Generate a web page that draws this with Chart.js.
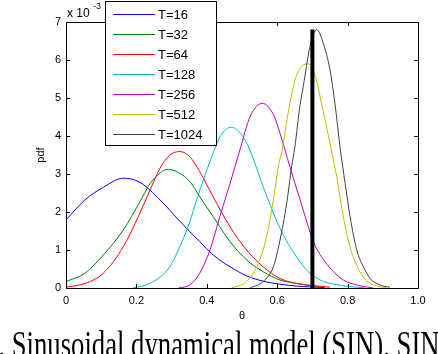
<!DOCTYPE html>
<html lang="en">
<head>
  <meta charset="UTF-8">
  <title>pdf of theta</title>
  <script src="https://cdn.jsdelivr.net/npm/chart.js"></script>
  <style>
    html, body { margin: 0; padding: 0; background: white; overflow: hidden; }
    #wrap { position: relative; width: 438px; height: 354px; overflow: hidden; }
    #chart-box { position: absolute; left: 0; top: 0; width: 438px; height: 327px; }
    #caption { position: absolute; left: 0; top: 325px; font-family: "Liberation Serif", "DejaVu Serif", serif; font-size: 38px; line-height: 38px; white-space: nowrap; color: black; transform-origin: 0 0; }
  </style>
</head>
<body>
<div id="wrap">
  <div id="chart-box"><canvas id="pdf-chart" width="438" height="327"></canvas></div>
  <div id="caption"><span id="cap-num">7. </span><span id="cap-main">Sinusoidal dynamical model (SIN).</span><span> SIN</span></div>
</div>

<script>
// values, pdf in units of 1e-3
const seriesLabels = ['T=16', 'T=32', 'T=64', 'T=128', 'T=256', 'T=512', 'T=1024'];
const seriesColors = ['#0000ff', '#008000', '#ff0000', '#00bfbf', '#bf00bf', '#bfbf00', '#404040'];

const t16x = [0, 0.054, 0.106, 0.163, 0.21, 0.267, 0.324, 0.352, 0.38, 0.418, 0.466, 0.513, 0.56, 0.608, 0.655, 0.693, 0.735];
const t16y = [1.79, 2.32, 2.65, 2.89, 2.78, 2.32, 1.75, 1.48, 1.22, 0.87, 0.56, 0.32, 0.18, 0.10, 0.05, 0.03, 0.01];

const t32x = [0, 0.054, 0.106, 0.163, 0.21, 0.239, 0.267, 0.285, 0.31, 0.352, 0.38, 0.418, 0.466, 0.513, 0.56, 0.608, 0.655, 0.72];
const t32y = [0.17, 0.39, 0.87, 1.53, 2.27, 2.75, 3.02, 3.12, 3.08, 2.8, 2.4, 1.88, 1.22, 0.74, 0.43, 0.21, 0.12, 0.03];

const t64x = [0, 0.054, 0.106, 0.163, 0.21, 0.239, 0.267, 0.295, 0.324, 0.352, 0.38, 0.418, 0.466, 0.513, 0.56, 0.608, 0.655, 0.75];
const t64y = [0.02, 0.12, 0.39, 1.09, 1.97, 2.58, 3.15, 3.5, 3.59, 3.45, 3.06, 2.4, 1.61, 1.0, 0.56, 0.25, 0.12, 0.02];

const t128x = [0.19, 0.239, 0.295, 0.324, 0.352, 0.371, 0.395, 0.418, 0.44, 0.47, 0.5, 0.523, 0.56, 0.608, 0.655, 0.688, 0.722, 0.76, 0.85];
const t128y = [0, 0.12, 0.56, 1.1, 1.75, 2.32, 2.97, 3.55, 4.02, 4.23, 4.02, 3.62, 2.67, 1.57, 0.82, 0.43, 0.21, 0.1, 0];

const t256x = [0.32, 0.352, 0.38, 0.409, 0.437, 0.466, 0.494, 0.523, 0.558, 0.59, 0.608, 0.636, 0.665, 0.693, 0.707, 0.736, 0.76, 0.788, 0.826, 0.873];
const t256y = [0, 0.08, 0.39, 1.0, 1.88, 2.75, 3.63, 4.51, 4.86, 4.55, 4.07, 3.19, 2.32, 1.48, 1.13, 0.69, 0.43, 0.21, 0.08, 0];

const t512x = [0.47, 0.513, 0.542, 0.57, 0.589, 0.603, 0.613, 0.636, 0.655, 0.688, 0.707, 0.722, 0.736, 0.755, 0.769, 0.783, 0.797, 0.816, 0.835, 0.854, 0.883, 0.91];
const t512y = [0, 0.17, 0.56, 1.35, 2.32, 3.19, 3.6, 4.86, 5.6, 5.9, 5.6, 5.03, 4.42, 3.58, 2.93, 2.14, 1.44, 0.82, 0.43, 0.19, 0.05, 0.01];

const t1024x = [0.523, 0.56, 0.589, 0.608, 0.627, 0.641, 0.65, 0.665, 0.674, 0.693, 0.712, 0.731, 0.75, 0.764, 0.778, 0.793, 0.807, 0.826, 0.845, 0.864, 0.892, 0.92];
const t1024y = [0, 0.17, 0.56, 1.26, 2.23, 3.19, 3.7, 4.82, 5.3, 6.35, 6.8, 6.44, 5.74, 4.86, 3.75, 2.75, 1.88, 1.0, 0.56, 0.25, 0.08, 0.02];

const trueX = [0.7, 0.7];
const trueY = [0, 6.8];

const xTicks = [0, 0.2, 0.4, 0.6, 0.8, 1];
const yTicks = [0, 1, 2, 3, 4, 5, 6, 7];

const allX = [t16x, t32x, t64x, t128x, t256x, t512x, t1024x];
const allY = [t16y, t32y, t64y, t128y, t256y, t512y, t1024y];

function pts(xs, ys) { return xs.map((x, i) => ({ x: x, y: ys[i] })); }

const datasets = seriesLabels.map((lab, i) => ({
  label: lab,
  data: pts(allX[i], allY[i]),
  borderColor: seriesColors[i],
  borderWidth: 1,
  pointRadius: 0,
  tension: 0.4,
  cubicInterpolationMode: 'monotone',
  fill: false,
  order: 7 - i
}));
datasets.push({ label: 'true', data: pts(trueX, trueY), borderColor: '#000000', borderWidth: 4, pointRadius: 0, fill: false, order: 0 });

// box, inward ticks, legend and the exponent note, matlab style
const matlabLook = {
  id: 'matlabLook',
  afterDraw(chart) {
    const ctx = chart.ctx;
    const a = chart.chartArea;
    const xs = chart.scales.x, ys = chart.scales.y;
    ctx.save();
    ctx.strokeStyle = '#000';
    ctx.lineWidth = 1;
    ctx.beginPath();
    ctx.rect(Math.round(a.left) + 0.5, Math.round(a.top) + 0.5, Math.round(a.right - a.left), Math.round(a.bottom - a.top));
    xTicks.forEach(v => {
      const px = Math.round(xs.getPixelForValue(v)) + 0.5;
      ctx.moveTo(px, a.bottom); ctx.lineTo(px, a.bottom - 4);
      ctx.moveTo(px, a.top); ctx.lineTo(px, a.top + 4);
    });
    yTicks.forEach(v => {
      const py = Math.round(ys.getPixelForValue(v)) + 0.5;
      ctx.moveTo(a.left, py); ctx.lineTo(a.left + 4, py);
      ctx.moveTo(a.right, py); ctx.lineTo(a.right - 4, py);
    });
    ctx.stroke();

    // x 10^-3
    ctx.fillStyle = '#000';
    ctx.font = '12px "Liberation Sans", Arial, sans-serif';
    ctx.textBaseline = 'alphabetic';
    ctx.textAlign = 'left';
    ctx.fillText('x 10', 67, 17);
    ctx.font = '9px "Liberation Sans", Arial, sans-serif';
    ctx.fillText('-3', 93, 9);

    // legend
    const lx = 105, ly = 1, lw = 111, lh = 144;
    ctx.fillStyle = '#fff';
    ctx.fillRect(lx, ly, lw, lh);
    ctx.strokeStyle = '#000';
    ctx.strokeRect(lx + 0.5, ly + 0.5, lw, lh);
    ctx.font = '13px "Liberation Sans", Arial, sans-serif';
    ctx.textBaseline = 'middle';
    seriesLabels.forEach((lab, i) => {
      const y = Math.round(13.5 + 20 * i) + 0.5;
      ctx.strokeStyle = seriesColors[i];
      ctx.beginPath();
      ctx.moveTo(113, y); ctx.lineTo(155, y);
      ctx.stroke();
      ctx.fillStyle = '#000';
      ctx.fillText(lab, 158, y + 1);
    });
    ctx.restore();
  }
};

const tickFont = { family: '"Liberation Sans", Arial, sans-serif', size: 11 };

new Chart(document.getElementById('pdf-chart').getContext('2d'), {
  type: 'line',
  data: { datasets },
  plugins: [matlabLook],
  options: {
    responsive: false,
    animation: false,
    events: [],
    layout: { padding: { left: 30, right: 20, top: 22, bottom: 0 } },
    plugins: { legend: { display: false }, tooltip: { enabled: false } },
    scales: {
      x: {
        type: 'linear', min: 0, max: 1,
        afterBuildTicks: s => { s.ticks = xTicks.map(v => ({ value: v })); },
        afterFit: s => { s.height = 39; },
        grid: { display: false, drawTicks: false },
        border: { display: false },
        ticks: { color: '#000', font: tickFont, padding: 6, maxRotation: 0 },
        title: { display: true, text: 'θ', color: '#000', font: tickFont, padding: { top: 2, bottom: 4 } }
      },
      y: {
        type: 'linear', min: 0, max: 7,
        afterBuildTicks: s => { s.ticks = yTicks.map(v => ({ value: v })); },
        afterFit: s => { s.width = 36; },
        grid: { display: false, drawTicks: false },
        border: { display: false },
        ticks: { color: '#000', font: tickFont, padding: 5 },
        title: { display: true, text: 'pdf', color: '#000', font: tickFont, padding: { top: 4, bottom: 2 } }
      }
    }
  }
});

// squeeze the caption so "Sinusoidal ... (SIN)." runs from x=12 to x=390 like the scan
const cap = document.getElementById('caption');
const numW = document.getElementById('cap-num').offsetWidth;
const mainW = document.getElementById('cap-main').offsetWidth;
const sx = 378 / mainW;
cap.style.left = (12 - numW * sx) + 'px';
cap.style.transform = 'scaleX(' + sx + ')';
</script>
</body>
</html>
